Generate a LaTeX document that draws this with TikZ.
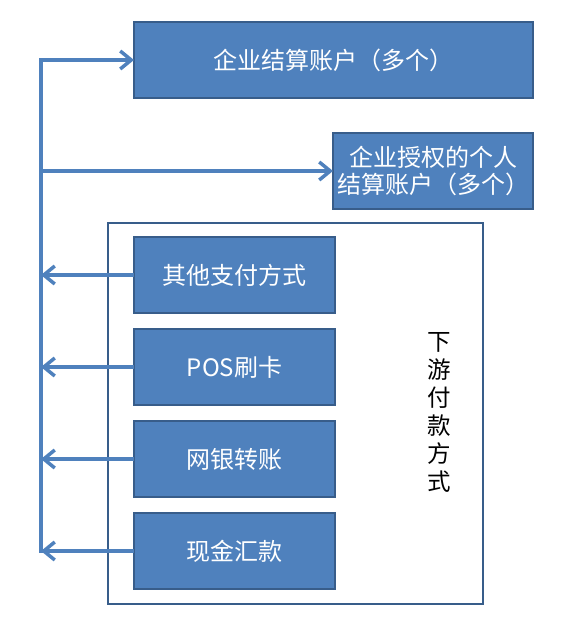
\documentclass[tikz,border=0pt]{standalone}
\usepackage{fontspec}
\setmainfont{Noto Sans CJK SC}
\usetikzlibrary{arrows.meta}
\definecolor{boxfill}{HTML}{4F81BD}
\definecolor{boxline}{HTML}{385D8A}
\definecolor{arrowc}{HTML}{4F81BD}
\tikzset{
  bluebox/.style={draw=boxline, line width=2.5pt, fill=boxfill, text=white,
    inner sep=0pt, outer sep=0pt, font=\fontsize{24}{27}\selectfont, align=center},
  framebox/.style={draw=boxline, line width=2.5pt, fill=white, inner sep=0pt, outer sep=0pt},
  conn/.style={draw=arrowc, line width=3.5pt},
  arr/.style={conn, -{Straight Barb[length=11pt, width=18pt, line width=3.5pt]}},
  vtext/.style={font=\fontsize{23.5}{28}\selectfont, align=center, inner sep=0pt}
}
\begin{document}
\begin{tikzpicture}[x=1pt, y=-1pt]
\useasboundingbox (0,0) rectangle (579,629);
% outer frame
\node[framebox, minimum width=375pt, minimum height=381pt] (frame) at (295.5,413.5) {};
\node[vtext] (vlabel) at (439,412) {下\\游\\付\\款\\方\\式};
% target boxes
\node[bluebox, minimum width=399pt, minimum height=76pt] (A) at (333.5,60) {企业结算账户（多个）};
\node[bluebox, minimum width=200pt, minimum height=76pt] (B) at (433,171) {企业授权的个人\\结算账户（多个）};
% payment method boxes
\node[bluebox, minimum width=201pt, minimum height=76pt] (m1) at (234.5,275) {其他支付方式};
\node[bluebox, minimum width=201pt, minimum height=76pt] (m2) at (234.5,367) {POS刷卡};
\node[bluebox, minimum width=201pt, minimum height=76pt] (m3) at (234.5,459) {网银转账};
\node[bluebox, minimum width=201pt, minimum height=76pt] (m4) at (234.5,551) {现金汇款};
% bus
\coordinate (bt) at (41,60);
\coordinate (bb) at (41,551);
\coordinate (bB) at (41,171);
\draw[conn, line cap=rect] (bt) -- (bb);
\draw[arr] (bt) -- (A.west);
\draw[arr] (bB) -- (B.west);
\draw[arr] (m1.west) -- (m1.west -| bt);
\draw[arr] (m2.west) -- (m2.west -| bt);
\draw[arr] (m3.west) -- (m3.west -| bt);
\draw[arr] (m4.west) -- (m4.west -| bt);
\end{tikzpicture}
\end{document}
